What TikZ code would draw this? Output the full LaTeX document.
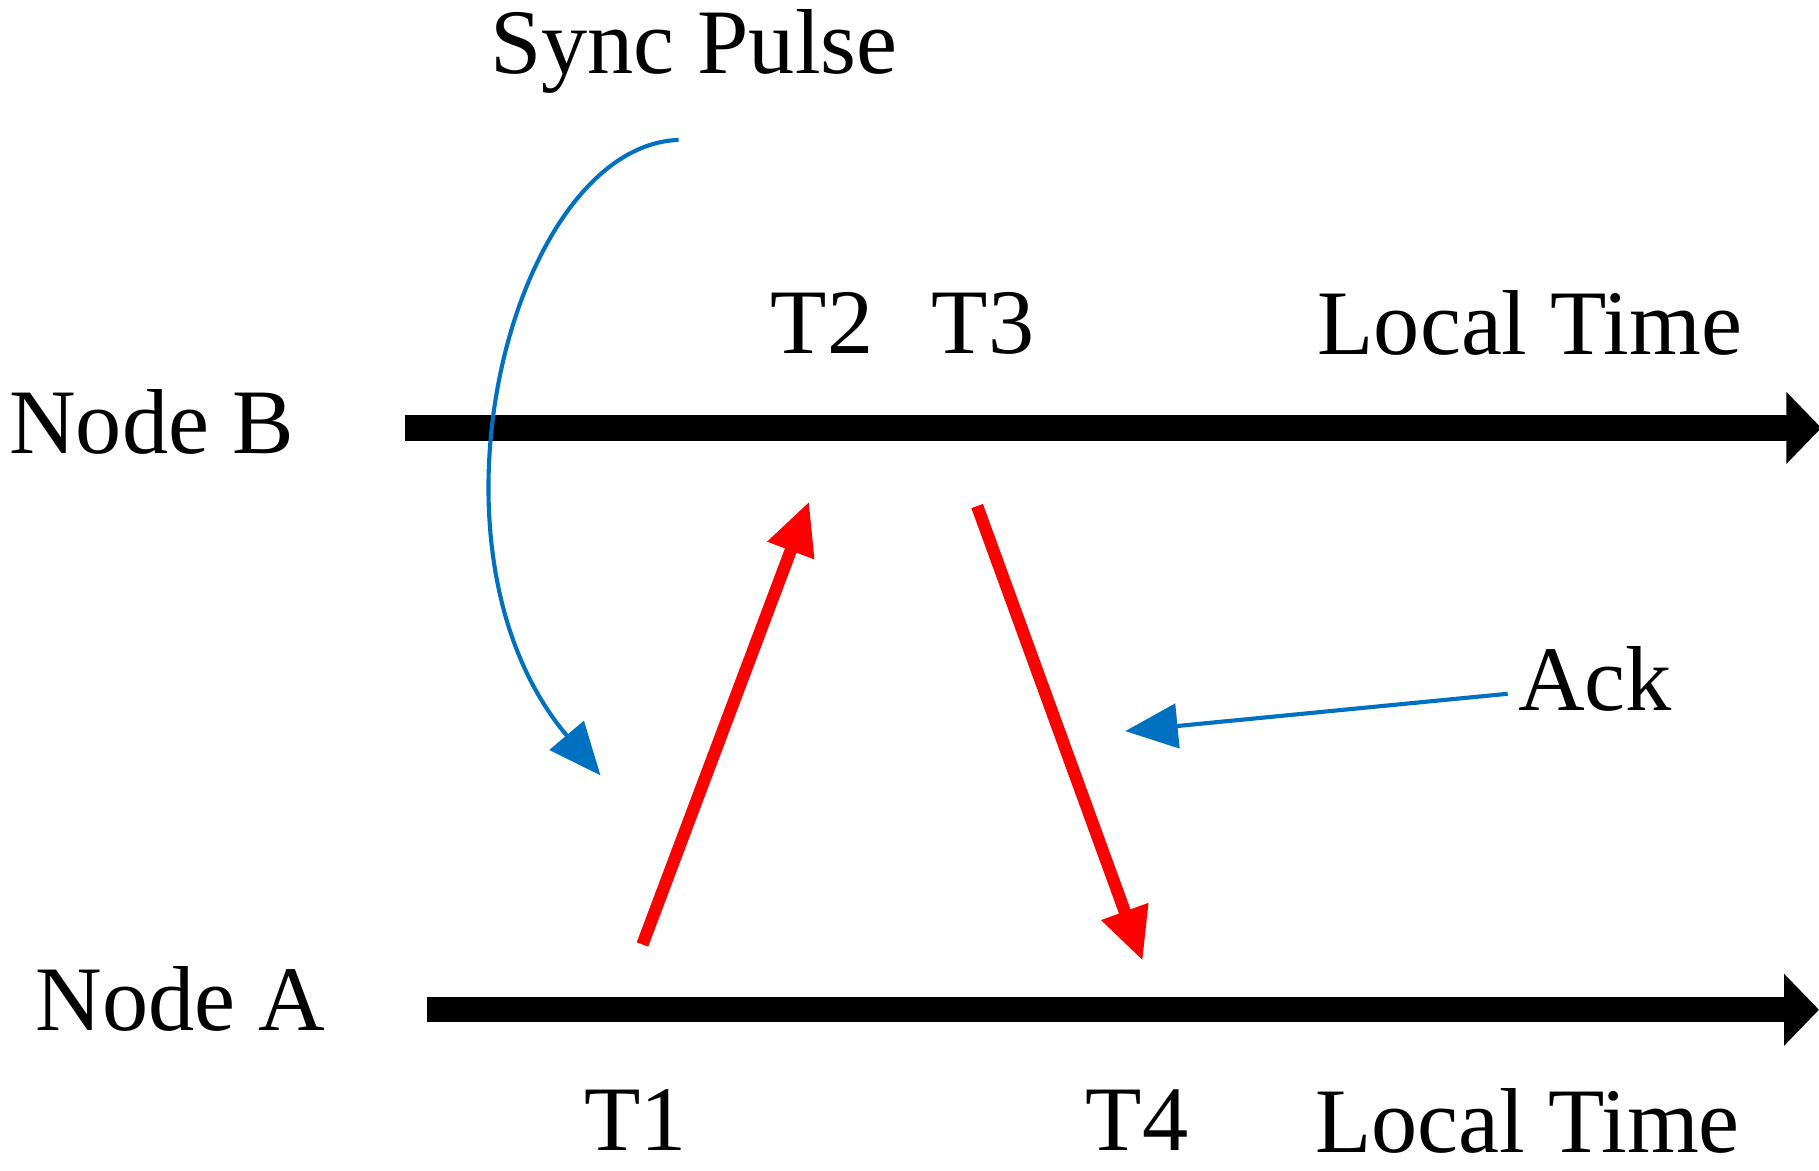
\documentclass[tikz,border=0pt]{standalone}
\usepackage{fontspec}
\setmainfont{Liberation Serif}
\usetikzlibrary{arrows.meta}
\definecolor{bl}{RGB}{0,112,192}
\begin{document}
\begin{tikzpicture}[x=0.01cm,y=-0.01cm,
  lbl/.style={font=\fontsize{22.5}{27}\selectfont, inner sep=0pt},
  axis/.style={line width=6.2pt,-{Triangle[length=0.3cm,width=0.6cm]}},
  msg/.style={red,line width=3pt,-{Triangle[length=0.45cm,width=0.4cm]}},
  note/.style={bl,line width=1pt,-{Triangle[length=0.45cm,width=0.38cm,fill=bl]}}]
\useasboundingbox (0,0) rectangle (1560,1004);
\node[lbl] (nb) at (130,362) {Node B};
\node[lbl] (na) at (155,857) {Node A};
\node[lbl] (t2) at (705,277) {T2};
\node[lbl] (t3) at (843,277) {T3};
\node[lbl] (ltb) at (1312,277) {Local Time};
\node[lbl] (t1) at (545,961) {T1};
\node[lbl] (t4) at (975,961) {T4};
\node[lbl] (lta) at (1310,961) {Local Time};
\node[lbl] (sp) at (595,44) {Sync Pulse};
\node[lbl] (ack) at (1368,582) {Ack};
\coordinate (b0) at (347,367); \coordinate (b1) at (1562,367);
\coordinate (a0) at (366,866); \coordinate (a1) at (1560,866);
\draw[axis] (b0) -- (b1);
\draw[axis] (a0) -- (a1);
\coordinate (u0) at (551,810); \coordinate (u1) at (694,430);
\coordinate (d0) at (838,434); \coordinate (d1) at (980,824);
\draw[msg] (u0) -- (u1);
\draw[msg] (d0) -- (d1);
\coordinate (s0) at (582,120); \coordinate (s1) at (515,665);
\draw[note] (s0) .. controls (440,125) and (350,470) .. (s1);
\coordinate (k0) at (1293,595); \coordinate (k1) at (965,627);
\draw[note] (k0) -- (k1);
\end{tikzpicture}
\end{document}
